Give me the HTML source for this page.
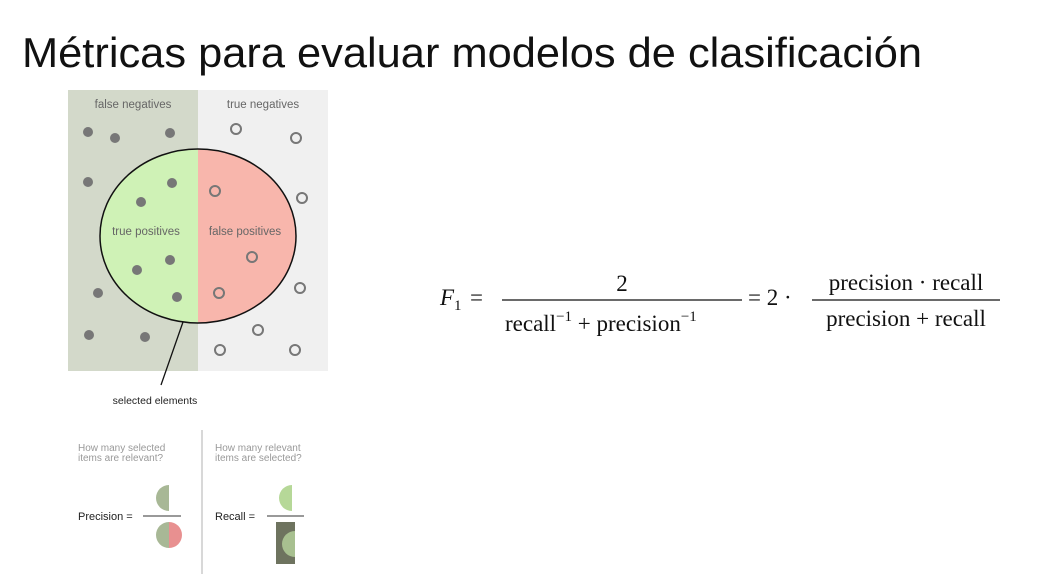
<!DOCTYPE html>
<html><head><meta charset="utf-8"><style>
html,body{margin:0;padding:0;background:#fff;width:1051px;height:574px;overflow:hidden}
svg{display:block}
</style></head><body>
<svg width="1051" height="574" xmlns="http://www.w3.org/2000/svg" font-family="Liberation Sans, sans-serif">
<text x="22" y="67" font-size="42" fill="#111" textLength="900" lengthAdjust="spacingAndGlyphs">Métricas para evaluar modelos de clasificación</text>
<rect x="68" y="90" width="130" height="281" fill="#d3d9ca"/>
<rect x="198" y="90" width="130" height="281" fill="#f0f0f0"/>
<clipPath id="l"><rect x="90" y="140" width="108" height="200"/></clipPath>
<clipPath id="r"><rect x="198" y="140" width="108" height="200"/></clipPath>
<ellipse cx="198" cy="236" rx="98" ry="87" fill="#cff2b6" clip-path="url(#l)"/>
<ellipse cx="198" cy="236" rx="98" ry="87" fill="#f8b6ac" clip-path="url(#r)"/>
<ellipse cx="198" cy="236" rx="98" ry="87" fill="none" stroke="#111" stroke-width="1.5"/>
<line x1="183" y1="322" x2="161" y2="385" stroke="#111" stroke-width="1.3"/>
<g font-size="11.5" fill="#666" text-anchor="middle">
<text x="133" y="108">false negatives</text>
<text x="263" y="108">true negatives</text>
<text x="146" y="235">true positives</text>
<text x="245" y="235">false positives</text>
</g>
<text x="155" y="404" font-size="10.5" fill="#222" text-anchor="middle">selected elements</text>
<g fill="#777">
<circle cx="88" cy="132" r="5"/><circle cx="115" cy="138" r="5"/><circle cx="170" cy="133" r="5"/>
<circle cx="88" cy="182" r="5"/><circle cx="172" cy="183" r="5"/><circle cx="141" cy="202" r="5"/>
<circle cx="137" cy="270" r="5"/><circle cx="170" cy="260" r="5"/><circle cx="98" cy="293" r="5"/>
<circle cx="177" cy="297" r="5"/><circle cx="89" cy="335" r="5"/><circle cx="145" cy="337" r="5"/>
</g>
<g fill="none" stroke="#777" stroke-width="2">
<circle cx="236" cy="129" r="5"/><circle cx="296" cy="138" r="5"/><circle cx="302" cy="198" r="5"/>
<circle cx="215" cy="191" r="5"/><circle cx="252" cy="257" r="5"/><circle cx="219" cy="293" r="5"/>
<circle cx="300" cy="288" r="5"/><circle cx="258" cy="330" r="5"/><circle cx="220" cy="350" r="5"/>
<circle cx="295" cy="350" r="5"/>
</g>
<line x1="202" y1="430" x2="202" y2="574" stroke="#ccc" stroke-width="1.5"/>
<g font-size="10" fill="#999">
<text x="78" y="451">How many selected</text><text x="78" y="461">items are relevant?</text>
<text x="215" y="451">How many relevant</text><text x="215" y="461">items are selected?</text>
</g>
<g font-size="11" fill="#222">
<text x="78" y="520">Precision =</text>
<text x="215" y="520">Recall =</text>
</g>
<line x1="143" y1="516" x2="181" y2="516" stroke="#333"/>
<line x1="267" y1="516" x2="304" y2="516" stroke="#333"/>
<path d="M169 485 A13 13 0 0 0 169 511 Z" fill="#a8b896"/>
<path d="M169 522 A13 13 0 0 0 169 548 Z" fill="#a8b896"/>
<path d="M169 522 A13 13 0 0 1 169 548 Z" fill="#e89090"/>
<path d="M292 485 A13 13 0 0 0 292 511 Z" fill="#b6d898"/>
<rect x="276" y="522" width="19" height="42" fill="#6e735f"/>
<path d="M295 531 A13 13 0 0 0 295 557 Z" fill="#a8c090"/>
<g font-family="Liberation Serif, serif" font-size="23" fill="#111">
<text x="440" y="305" font-style="italic">F</text><text x="454" y="310" font-size="15">1</text>
<text x="470" y="305">=</text>
<text x="622" y="291" text-anchor="middle">2</text>
<line x1="502" y1="300" x2="742" y2="300" stroke="#111" stroke-width="1.2"/>
<text x="505" y="331">recall<tspan font-size="15" dy="-10">−1</tspan><tspan dy="10"> + precision</tspan><tspan font-size="15" dy="-10">−1</tspan></text>
<text x="748" y="305">= 2 ·</text>
<text x="906" y="290" text-anchor="middle">precision · recall</text>
<line x1="812" y1="300" x2="1000" y2="300" stroke="#111" stroke-width="1.2"/>
<text x="906" y="326" text-anchor="middle">precision + recall</text>
</g>
</svg>
</body></html>
